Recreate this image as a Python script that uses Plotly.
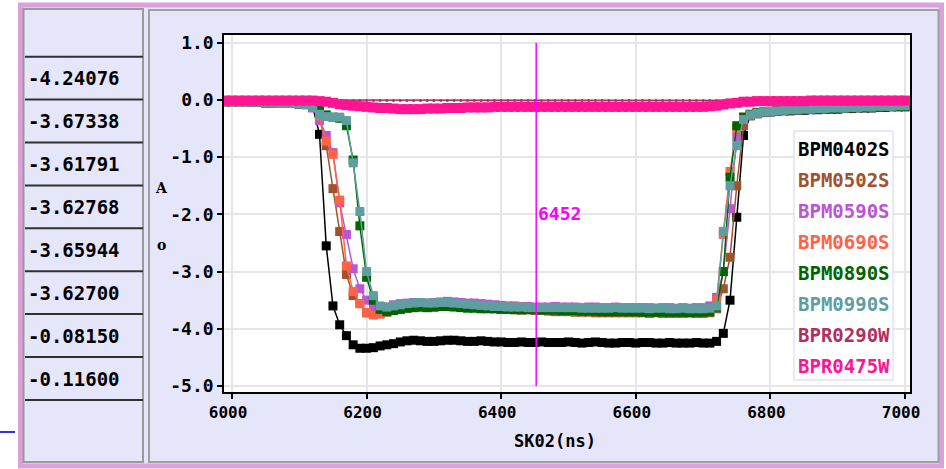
import plotly.graph_objects as go

# ---------------- data ----------------
times = list(range(5990, 7001, 10))  # sample times (ns)

names = ["BPM0402S", "BPM0502S", "BPM0590S", "BPM0690S",
         "BPM0890S", "BPM0990S", "BPR0290W", "BPR0475W"]

bpm0402s = [
    -0.03,
    -0.03, -0.03, -0.03, -0.04, -0.04, -0.05, -0.05, -0.06, -0.06, -0.06,
    -0.07, -0.08, -0.12, -0.60, -2.55, -3.60, -3.93, -4.12, -4.28, -4.34,
    -4.34, -4.33, -4.30, -4.28, -4.26, -4.23, -4.21, -4.20, -4.21, -4.22,
    -4.22, -4.21, -4.20, -4.20, -4.21, -4.22, -4.22, -4.21, -4.22, -4.23,
    -4.23, -4.24, -4.24, -4.23, -4.24, -4.24, -4.23, -4.24, -4.24, -4.24,
    -4.23, -4.24, -4.25, -4.24, -4.23, -4.24, -4.25, -4.25, -4.24, -4.24,
    -4.25, -4.24, -4.24, -4.25, -4.25, -4.24, -4.25, -4.25, -4.25, -4.24,
    -4.25, -4.25, -4.22, -4.08, -3.50, -2.05, -0.62, -0.27, -0.24, -0.22,
    -0.21, -0.20, -0.19, -0.19, -0.18, -0.18, -0.17, -0.17, -0.16, -0.16,
    -0.16, -0.15, -0.15, -0.14, -0.14, -0.14, -0.13, -0.13, -0.12, -0.12,
    -0.12]

bpm0502s = [
    -0.03,
    -0.03, -0.03, -0.03, -0.04, -0.04, -0.05, -0.05, -0.06, -0.06, -0.06,
    -0.07, -0.08, -0.12, -0.32, -0.80, -1.55, -2.30, -3.05, -3.42, -3.56,
    -3.72, -3.75, -3.74, -3.71, -3.68, -3.66, -3.64, -3.63, -3.62, -3.63,
    -3.62, -3.61, -3.60, -3.61, -3.62, -3.62, -3.63, -3.64, -3.64, -3.65,
    -3.66, -3.66, -3.67, -3.67, -3.67, -3.68, -3.68, -3.69, -3.70, -3.70,
    -3.70, -3.71, -3.71, -3.71, -3.72, -3.72, -3.72, -3.72, -3.72, -3.72,
    -3.72, -3.72, -3.73, -3.72, -3.73, -3.73, -3.73, -3.73, -3.72, -3.73,
    -3.73, -3.72, -3.65, -3.30, -2.75, -1.50, -0.45, -0.28, -0.24, -0.22,
    -0.20, -0.19, -0.18, -0.18, -0.17, -0.17, -0.16, -0.16, -0.15, -0.15,
    -0.15, -0.14, -0.14, -0.13, -0.13, -0.13, -0.12, -0.12, -0.11, -0.11,
    -0.11]

bpm0590s = [
    -0.03,
    -0.03, -0.03, -0.03, -0.04, -0.04, -0.05, -0.05, -0.06, -0.06, -0.06,
    -0.07, -0.08, -0.14, -0.36, -0.62, -0.92, -1.80, -2.35, -2.95, -3.30,
    -3.50, -3.62, -3.66, -3.62, -3.58, -3.56, -3.55, -3.54, -3.54, -3.55,
    -3.54, -3.53, -3.52, -3.53, -3.54, -3.55, -3.55, -3.56, -3.57, -3.58,
    -3.59, -3.60, -3.60, -3.61, -3.61, -3.62, -3.62, -3.62, -3.61, -3.62,
    -3.62, -3.62, -3.63, -3.62, -3.62, -3.63, -3.63, -3.62, -3.63, -3.63,
    -3.63, -3.63, -3.63, -3.64, -3.63, -3.63, -3.64, -3.63, -3.64, -3.63,
    -3.63, -3.60, -3.45, -3.00, -1.90, -0.65, -0.33, -0.26, -0.23, -0.21,
    -0.20, -0.19, -0.18, -0.17, -0.17, -0.16, -0.16, -0.15, -0.15, -0.14,
    -0.14, -0.14, -0.13, -0.13, -0.12, -0.12, -0.12, -0.11, -0.11, -0.10,
    -0.10]

bpm0690s = [
    -0.03,
    -0.03, -0.03, -0.03, -0.04, -0.04, -0.05, -0.05, -0.06, -0.06, -0.06,
    -0.07, -0.08, -0.12, -0.28, -0.72, -0.95, -1.75, -2.90, -3.35, -3.56,
    -3.72, -3.76, -3.74, -3.70, -3.66, -3.63, -3.60, -3.59, -3.58, -3.59,
    -3.58, -3.57, -3.56, -3.57, -3.58, -3.59, -3.59, -3.60, -3.60, -3.61,
    -3.61, -3.62, -3.62, -3.62, -3.63, -3.63, -3.63, -3.63, -3.64, -3.64,
    -3.64, -3.65, -3.65, -3.65, -3.66, -3.66, -3.66, -3.66, -3.67, -3.66,
    -3.67, -3.67, -3.67, -3.67, -3.68, -3.67, -3.68, -3.68, -3.68, -3.68,
    -3.68, -3.66, -3.50, -2.35, -1.25, -0.50, -0.30, -0.25, -0.22, -0.21,
    -0.20, -0.19, -0.18, -0.17, -0.17, -0.16, -0.16, -0.15, -0.15, -0.14,
    -0.14, -0.14, -0.13, -0.13, -0.12, -0.12, -0.11, -0.11, -0.11, -0.10,
    -0.10]

bpm0890s = [
    -0.03,
    -0.03, -0.03, -0.03, -0.04, -0.04, -0.05, -0.05, -0.06, -0.06, -0.06,
    -0.07, -0.08, -0.12, -0.18, -0.26, -0.30, -0.32, -0.45, -1.05, -2.20,
    -3.10, -3.50, -3.66, -3.70, -3.68, -3.66, -3.64, -3.63, -3.62, -3.63,
    -3.62, -3.61, -3.61, -3.62, -3.63, -3.64, -3.64, -3.65, -3.65, -3.65,
    -3.66, -3.66, -3.66, -3.67, -3.66, -3.66, -3.67, -3.67, -3.67, -3.68,
    -3.68, -3.68, -3.69, -3.69, -3.69, -3.70, -3.70, -3.70, -3.70, -3.70,
    -3.70, -3.71, -3.71, -3.71, -3.71, -3.71, -3.71, -3.71, -3.72, -3.71,
    -3.71, -3.70, -3.62, -3.00, -1.35, -0.45, -0.30, -0.25, -0.22, -0.21,
    -0.20, -0.19, -0.18, -0.18, -0.17, -0.17, -0.16, -0.16, -0.15, -0.15,
    -0.15, -0.14, -0.14, -0.13, -0.13, -0.12, -0.12, -0.12, -0.11, -0.11,
    -0.11]

bpm0990s = [
    -0.03,
    -0.03, -0.03, -0.03, -0.04, -0.04, -0.05, -0.05, -0.06, -0.06, -0.06,
    -0.07, -0.08, -0.13, -0.25, -0.29, -0.30, -0.30, -0.36, -1.10, -1.95,
    -3.00, -3.42, -3.60, -3.62, -3.60, -3.58, -3.56, -3.55, -3.54, -3.55,
    -3.55, -3.54, -3.54, -3.55, -3.56, -3.57, -3.58, -3.59, -3.60, -3.61,
    -3.61, -3.62, -3.62, -3.62, -3.63, -3.63, -3.63, -3.63, -3.63, -3.63,
    -3.63, -3.63, -3.64, -3.64, -3.64, -3.64, -3.64, -3.63, -3.64, -3.64,
    -3.64, -3.64, -3.65, -3.64, -3.64, -3.65, -3.65, -3.64, -3.65, -3.65,
    -3.65, -3.64, -3.60, -2.30, -1.50, -0.80, -0.34, -0.26, -0.23, -0.21,
    -0.20, -0.19, -0.18, -0.17, -0.17, -0.16, -0.16, -0.15, -0.15, -0.14,
    -0.14, -0.14, -0.13, -0.13, -0.12, -0.12, -0.11, -0.11, -0.11, -0.10,
    -0.10]

bpr0290w = [
    0.00,
    0.00, 0.00, 0.00, 0.00, 0.00, 0.00, 0.00, 0.00, 0.00, 0.00,
    0.00, 0.00, 0.00, 0.00, -0.01, -0.01, -0.01, -0.01, -0.01, -0.01,
    -0.01, -0.01, -0.01, -0.01, -0.01, -0.01, -0.01, -0.01, -0.01, -0.01,
    -0.01, -0.01, -0.01, -0.01, -0.01, -0.01, -0.01, -0.01, -0.01, -0.01,
    -0.01, -0.01, -0.01, -0.01, -0.01, -0.01, -0.01, -0.01, -0.01, -0.01,
    -0.01, -0.01, -0.01, -0.01, -0.01, -0.01, -0.01, -0.01, -0.01, -0.01,
    -0.01, -0.01, -0.01, -0.01, -0.01, -0.01, -0.01, -0.01, -0.01, -0.01,
    -0.01, -0.01, -0.01, -0.01, -0.01, -0.01, -0.01, -0.01, -0.01, -0.01,
    -0.01, -0.01, -0.01, -0.01, -0.01, -0.01, -0.01, -0.01, -0.01, -0.01,
    -0.01, -0.01, -0.01, -0.01, -0.01, -0.01, -0.01, -0.01, -0.01, -0.01,
    -0.01]

bpr0475w = [
    -0.01,
    -0.01, -0.01, -0.01, -0.01, -0.01, -0.01, -0.01, -0.01, -0.01, -0.01,
    -0.01, -0.01, -0.01, -0.02, -0.03, -0.05, -0.07, -0.09, -0.10, -0.11,
    -0.12, -0.13, -0.14, -0.14, -0.15, -0.16, -0.16, -0.16, -0.16, -0.15,
    -0.15, -0.15, -0.14, -0.14, -0.14, -0.13, -0.13, -0.13, -0.13, -0.12,
    -0.12, -0.12, -0.12, -0.12, -0.12, -0.12, -0.12, -0.12, -0.12, -0.12,
    -0.12, -0.12, -0.12, -0.12, -0.12, -0.12, -0.12, -0.12, -0.12, -0.12,
    -0.12, -0.12, -0.12, -0.12, -0.12, -0.12, -0.12, -0.12, -0.12, -0.12,
    -0.12, -0.11, -0.10, -0.08, -0.06, -0.05, -0.03, -0.03, -0.02, -0.02,
    -0.02, -0.02, -0.02, -0.02, -0.02, -0.02, -0.01, -0.01, -0.01, -0.01,
    -0.01, -0.01, -0.01, -0.01, -0.01, -0.01, -0.01, -0.01, -0.01, -0.01,
    -0.01]

series = [bpm0402s, bpm0502s, bpm0590s, bpm0690s,
          bpm0890s, bpm0990s, bpr0290w, bpr0475w]

table_values = [-4.24076, -3.67338, -3.61791, -3.62768,
                -3.65944, -3.62700, -0.08150, -0.11600]

cursor_t = 6452
x_ticks = [6000, 6200, 6400, 6600, 6800, 7000]
y_ticks = [1, 0, -1, -2, -3, -4, -5]
x_title = "SK02(ns)"

# ---------------- styles ----------------
colors = ["#000000", "#A0522D", "#BA55D3", "#FF6347",
          "#006400", "#5F9EA0", "#B03060", "#FF1493"]
marker_sizes = [9, 9, 9, 9, 9, 9, 3, 10]
marker_symbols = ["square", "square", "square", "square",
                  "square", "square", "circle", "square"]

MONO = "DejaVu Sans Mono"
SERIF = "DejaVu Serif"
LAV = "#E6E6FA"
PLUM = "#DDA0DD"

FW, FH = 946, 469
L, R, T, B = 224, 910, 35, 392


def fx(px):
    return (px - L) / (R - L)


def fy(py):
    return (B - py) / (B - T)


fig = go.Figure()
for name, ys, col, ms, sym in zip(names, series, colors, marker_sizes, marker_symbols):
    fig.add_trace(go.Scatter(
        x=times, y=ys, name=name, mode="lines+markers",
        line=dict(color=col, width=1.5),
        marker=dict(color=col, size=ms, symbol=sym, line=dict(width=0)),
        showlegend=False, hoverinfo="skip"))

shapes = []
# page frame
shapes.append(dict(type="rect", xref="paper", yref="paper", layer="below",
                   x0=fx(20.5), x1=fx(941.5), y0=fy(5), y1=fy(466),
                   line=dict(color=PLUM, width=5), fillcolor=LAV))
shapes.append(dict(type="rect", xref="paper", yref="paper", layer="below",
                   x0=fx(23.5), x1=fx(143), y0=fy(9), y1=fy(462),
                   line=dict(color="#9A9A9A", width=2), fillcolor=LAV))
shapes.append(dict(type="rect", xref="paper", yref="paper", layer="below",
                   x0=fx(149), x1=fx(938.5), y0=fy(10), y1=fy(462),
                   line=dict(color="#A0A0A0", width=2), fillcolor=LAV))
shapes.append(dict(type="rect", xref="paper", yref="paper", layer="below",
                   x0=0, x1=1, y0=0, y1=1,
                   line=dict(width=0), fillcolor="white"))
# table rules
for k in range(len(table_values) + 1):
    yy = fy(56.7 + 42.9 * k)
    shapes.append(dict(type="line", xref="paper", yref="paper", layer="above",
                       x0=fx(25), x1=fx(143), y0=yy, y1=yy,
                       line=dict(color="#303030", width=2)))
# blue stub line
shapes.append(dict(type="line", xref="paper", yref="paper", layer="above",
                   x0=fx(0), x1=fx(15), y0=fy(432), y1=fy(432),
                   line=dict(color="#3030E0", width=2)))
# legend box
shapes.append(dict(type="rect", xref="paper", yref="paper", layer="above",
                   x0=fx(794), x1=fx(893), y0=fy(131), y1=fy(380),
                   line=dict(color="#E2E2F6", width=1.5), fillcolor="white"))
# cursor line
shapes.append(dict(type="line", xref="x", yref="y", layer="above",
                   x0=cursor_t, x1=cursor_t, y0=-5, y1=1,
                   line=dict(color="#FF00FF", width=1.5)))

ann = []
for i, v in enumerate(table_values):
    ann.append(dict(xref="paper", yref="paper", x=fx(26), y=fy(78.3 + 42.9 * i),
                    xanchor="left", yanchor="middle", showarrow=False,
                    text=f"{v:.5f}",
                    font=dict(family=MONO, size=19, color="black", weight="bold")))
for i, (nm, col) in enumerate(zip(names, colors)):
    ann.append(dict(xref="paper", yref="paper", x=fx(796), y=fy(149 + 31 * i),
                    xanchor="left", yanchor="middle", showarrow=False, text=nm,
                    font=dict(family=MONO, size=19, color=col, weight="bold")))
ann.append(dict(xref="x", yref="paper", x=cursor_t, y=fy(213),
                xanchor="left", yanchor="middle", showarrow=False,
                text=str(cursor_t),
                font=dict(family=MONO, size=18, color="#FF00FF", weight="bold")))
ann.append(dict(xref="paper", yref="paper", x=fx(555), y=fy(441),
                xanchor="center", yanchor="middle", showarrow=False, text=x_title,
                font=dict(family=MONO, size=17, color="black", weight="bold")))
for ch, py in (("A", 188), ("o", 245)):
    ann.append(dict(xref="paper", yref="paper", x=fx(161), y=fy(py),
                    xanchor="center", yanchor="middle", showarrow=False, text=ch,
                    font=dict(family=SERIF, size=14, color="black", weight="bold")))

axis_common = dict(showline=True, linecolor="black", linewidth=1.5, mirror=True,
                   ticks="outside", ticklen=5, tickwidth=1.5, tickcolor="black",
                   showgrid=True, gridcolor="#E6E6E6", gridwidth=1.5,
                   zeroline=False)

fig.update_layout(
    width=FW, height=FH, autosize=False,
    margin=dict(l=L, r=FW - R, t=T, b=FH - B, autoexpand=False),
    paper_bgcolor="white", plot_bgcolor="white",
    showlegend=False,
    xaxis=dict(range=[5988.1, 7007.4], tickvals=x_ticks,
               ticktext=[str(v) for v in x_ticks], ticklabelshift=-4,
               tickfont=dict(family=MONO, size=16, color="black", weight="bold"),
               **axis_common),
    yaxis=dict(range=[-5.105, 1.136], tickvals=y_ticks,
               ticktext=[f"{v:.1f}" for v in y_ticks],
               tickfont=dict(family=MONO, size=18, color="black", weight="bold"),
               **axis_common),
    shapes=shapes, annotations=ann,
)

fig.write_html("out.html")
